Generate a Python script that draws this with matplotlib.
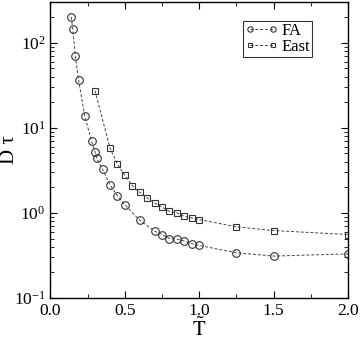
import matplotlib
matplotlib.use("Agg")
import matplotlib.pyplot as plt
from matplotlib.ticker import MultipleLocator, LogLocator, NullFormatter

plt.rcParams['font.family'] = ['Liberation Serif', 'DejaVu Serif']
plt.rcParams['mathtext.fontset'] = 'stix'

fa_T = [0.14, 0.15, 0.167, 0.19, 0.23, 0.277, 0.30, 0.31, 0.35, 0.40, 0.45, 0.50,
        0.60, 0.70, 0.75, 0.80, 0.85, 0.90, 0.95, 1.00, 1.25, 1.50, 2.00]
fa_D = [200, 146, 70, 36, 13.9, 6.9, 5.2, 4.4, 3.26, 2.14, 1.59, 1.25,
        0.82, 0.61, 0.557, 0.50, 0.49, 0.466, 0.436, 0.414, 0.34, 0.311, 0.33]

east_T = [0.30, 0.40, 0.45, 0.50, 0.55, 0.60, 0.65, 0.70, 0.75, 0.80, 0.85,
          0.90, 0.95, 1.00, 1.25, 1.50, 2.00]
east_D = [27.2, 5.8, 3.76, 2.75, 2.09, 1.74, 1.5, 1.31, 1.17, 1.04, 1.0,
          0.91, 0.87, 0.835, 0.686, 0.62, 0.557]

fig = plt.figure(figsize=(3.6, 3.4), dpi=100)
ax = fig.add_axes([0.140, 0.1235, 0.827, 0.8705])

lc = '#444444'
ax.plot(fa_T, fa_D, linestyle='--', dashes=(3, 2), color=lc, linewidth=0.7,
        marker='o', markersize=5.5, markerfacecolor='none', markeredgecolor='#333333',
        markeredgewidth=0.8, label='FA')
ax.plot(east_T, east_D, linestyle='--', dashes=(3, 2), color=lc, linewidth=0.7,
        marker='s', markersize=5, markerfacecolor='none', markeredgecolor='#333333',
        markeredgewidth=0.8, label='East')

ax.set_yscale('log')
ax.set_xlim(0.0, 2.0)
ax.set_ylim(0.1, 300)
ax.xaxis.set_major_locator(MultipleLocator(0.5))
ax.xaxis.set_minor_locator(MultipleLocator(0.25))
ax.xaxis.set_major_formatter(matplotlib.ticker.FormatStrFormatter('%.1f'))
ax.yaxis.set_major_locator(LogLocator(base=10, numticks=10))
ax.yaxis.set_minor_locator(LogLocator(base=10, subs=range(2, 10), numticks=20))
ax.yaxis.set_minor_formatter(NullFormatter())

ax.tick_params(which='both', direction='in', top=True, right=True, labelsize=12.5)
ax.tick_params(which='major', length=5, width=0.8)
ax.tick_params(which='minor', length=3, width=0.6)
for s in ax.spines.values():
    s.set_linewidth(1.0)

ax.set_xlabel(r'$\tilde{\mathrm{T}}$', fontsize=15)
ax.xaxis.set_label_coords(0.5, -0.068)
ax.set_ylabel('D τ', fontsize=15)
ax.yaxis.set_label_coords(-0.105, 0.5)

leg = ax.legend(loc='upper right', bbox_to_anchor=(0.88, 0.935), numpoints=2,
                fontsize=12, frameon=True, fancybox=False, edgecolor='black',
                handlelength=2.0, handletextpad=0.2, borderpad=0.12,
                labelspacing=0.0, borderaxespad=0.0, markerscale=0.7)
leg.get_frame().set_linewidth(0.8)

fig.savefig('out.png', dpi=100)
